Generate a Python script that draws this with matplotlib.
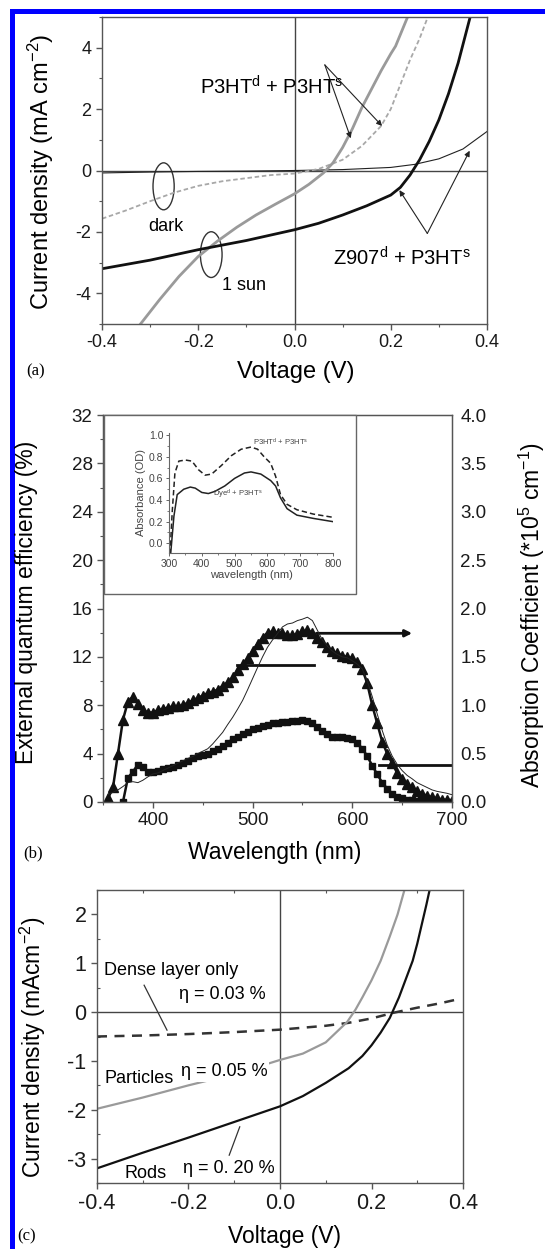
import matplotlib

matplotlib.use("Agg")
import matplotlib.pyplot as plt
from matplotlib.patches import Ellipse, Rectangle
from matplotlib.ticker import MultipleLocator

plt.rcParams["font.family"] = ["Liberation Sans", "DejaVu Sans"]
plt.rcParams["mathtext.fontset"] = "custom"
plt.rcParams["mathtext.rm"] = "Liberation Sans"
plt.rcParams["mathtext.it"] = "Liberation Sans:italic"
plt.rcParams["mathtext.default"] = "regular"
plt.rcParams["axes.unicode_minus"] = False

W, H = 545, 1249
GRAY = "#9a9a9a"
AXC = "#555555"

# ---------------- panel (a): J-V curves ----------------
a_v_p3ht_light = [-0.32, -0.28, -0.24, -0.2, -0.16, -0.12, -0.08, -0.04, 0.0, 0.03, 0.06,
                  0.08, 0.1, 0.12, 0.14, 0.16, 0.18, 0.2, 0.21, 0.235]
a_j_p3ht_light = [-5.0, -4.2, -3.45, -2.8, -2.3, -1.85, -1.45, -1.1, -0.76, -0.45, -0.08,
                  0.25, 0.75, 1.35, 2.05, 2.65, 3.25, 3.8, 4.05, 5.0]

a_v_p3ht_dark = [-0.4, -0.35, -0.3, -0.25, -0.2, -0.15, -0.1, -0.05, 0.0, 0.05, 0.1,
                 0.14, 0.18, 0.2, 0.22, 0.24, 0.26, 0.277]
a_j_p3ht_dark = [-1.57, -1.3, -1.0, -0.72, -0.5, -0.35, -0.25, -0.15, -0.1, 0.05, 0.35,
                 0.8, 1.45, 2.0, 2.8, 3.6, 4.3, 5.0]

a_v_z907_dark = [-0.4, -0.3, -0.2, -0.1, 0.0, 0.1, 0.2, 0.25, 0.3, 0.35, 0.4]
a_j_z907_dark = [-0.08, -0.05, -0.03, -0.02, 0.0, 0.03, 0.1, 0.2, 0.38, 0.7, 1.27]

a_v_z907_light = [-0.4, -0.3, -0.2, -0.1, 0.0, 0.05, 0.1, 0.15, 0.2, 0.22, 0.24, 0.26,
                  0.28, 0.3, 0.32, 0.34, 0.365]
a_j_z907_light = [-3.2, -2.92, -2.58, -2.28, -1.93, -1.72, -1.45, -1.15, -0.8, -0.55, -0.15,
                  0.35, 0.95, 1.65, 2.5, 3.5, 5.0]

# ---------------- panel (b): EQE and absorption ----------------
b_wl = list(range(355, 705, 5))
b_eqe_tri = [0.3, 1.2, 4.0, 6.8, 8.3, 8.7, 8.1, 7.6, 7.4, 7.4, 7.6, 7.7, 7.8, 7.9, 7.9,
             8.0, 8.2, 8.4, 8.6, 8.8, 9.0, 9.1, 9.3, 9.6, 9.9, 10.3, 10.9, 11.4, 11.9,
             12.5, 13.1, 13.6, 14.0, 14.1, 14.0, 14.0, 13.8, 13.8, 13.9, 14.1, 14.2, 14.0,
             13.6, 13.2, 12.8, 12.5, 12.3, 12.1, 12.0, 11.9, 11.6, 11.0, 9.8, 8.0, 6.5,
             5.0, 4.0, 3.2, 2.4, 1.9, 1.5, 1.2, 0.9, 0.7, 0.5, 0.4, 0.3, 0.2, 0.15, 0.1]
b_wl_sq = list(range(370, 705, 5))
b_eqe_sq = [0.0, 2.0, 2.5, 3.1, 2.9, 2.5, 2.5, 2.6, 2.7, 2.8, 2.9, 3.1, 3.2, 3.4, 3.6,
            3.8, 3.9, 4.0, 4.2, 4.4, 4.6, 4.9, 5.2, 5.4, 5.6, 5.8, 6.0, 6.1, 6.3, 6.4,
            6.5, 6.5, 6.6, 6.6, 6.7, 6.7, 6.8, 6.7, 6.5, 6.2, 5.9, 5.6, 5.4, 5.4, 5.4,
            5.3, 5.2, 4.9, 4.4, 3.8, 3.0, 2.3, 1.6, 1.1, 0.7, 0.45, 0.3, 0.2, 0.15, 0.1,
            0.08, 0.06, 0.05, 0.05, 0.04, 0.04, 0.03]
b_abs_coef = [0.075, 0.10, 0.125, 0.16, 0.20, 0.21, 0.20, 0.225, 0.26, 0.29, 0.30, 0.325,
              0.35, 0.375, 0.40, 0.425, 0.45, 0.47, 0.50, 0.525, 0.55, 0.60, 0.66, 0.72,
              0.80, 0.875, 0.96, 1.05, 1.16, 1.275, 1.39, 1.50, 1.60, 1.675, 1.74, 1.81,
              1.84, 1.85, 1.875, 1.89, 1.91, 1.875, 1.775, 1.675, 1.61, 1.56, 1.525, 1.50,
              1.49, 1.46, 1.425, 1.375, 1.25, 1.09, 0.91, 0.74, 0.59, 0.475, 0.39, 0.325,
              0.275, 0.24, 0.20, 0.175, 0.15, 0.125, 0.11, 0.10, 0.09, 0.075]

# inset: absorbance spectra
ins_wl_p3ht = [303, 310, 318, 330, 350, 370, 390, 410, 430, 460, 490, 520, 550, 570, 590,
               610, 625, 640, 660, 690, 740, 800]
ins_od_p3ht = [-0.1, 0.3, 0.65, 0.76, 0.77, 0.76, 0.68, 0.63, 0.64, 0.72, 0.81, 0.87, 0.89,
               0.87, 0.8, 0.74, 0.62, 0.45, 0.36, 0.31, 0.27, 0.24]
ins_wl_dye = [305, 315, 325, 345, 365, 380, 400, 420, 440, 470, 500, 530, 550, 580, 610,
              625, 640, 660, 690, 740, 800]
ins_od_dye = [-0.1, 0.25, 0.45, 0.5, 0.52, 0.51, 0.47, 0.46, 0.48, 0.53, 0.6, 0.65, 0.66,
              0.64, 0.58, 0.53, 0.42, 0.32, 0.26, 0.23, 0.2]

# ---------------- panel (c): J-V for different TiO2 layers ----------------
c_v_rods = [-0.4, -0.3, -0.2, -0.1, 0.0, 0.05, 0.1, 0.15, 0.18, 0.2, 0.22, 0.24, 0.26,
            0.28, 0.29, 0.3, 0.31, 0.32, 0.327]
c_j_rods = [-3.2, -2.88, -2.57, -2.25, -1.93, -1.72, -1.45, -1.15, -0.9, -0.68, -0.42,
            -0.12, 0.3, 0.8, 1.05, 1.4, 1.8, 2.2, 2.5]
c_v_particles = [-0.4, -0.3, -0.2, -0.1, -0.024, 0.0, 0.05, 0.1, 0.147, 0.165, 0.18, 0.2,
                 0.22, 0.24, 0.257, 0.272]
c_j_particles = [-1.98, -1.75, -1.5, -1.27, -1.05, -0.98, -0.85, -0.62, -0.2, 0.05, 0.3,
                 0.65, 1.05, 1.55, 2.0, 2.5]
c_v_dense = [-0.4, -0.3, -0.2, -0.1, 0.0, 0.1, 0.15, 0.2, 0.25, 0.3, 0.35, 0.383]
c_j_dense = [-0.5, -0.48, -0.45, -0.41, -0.36, -0.28, -0.22, -0.13, -0.01, 0.09, 0.18, 0.25]


def rect(left, top, right, bottom):
    return [left / W, 1 - bottom / H, (right - left) / W, (bottom - top) / H]


def ftext(fig, x, y, s, **kw):
    fig.text(x / W, 1 - y / H, s, ha=kw.pop("ha", "center"), va=kw.pop("va", "center"), **kw)


def style(ax, fs):
    for s in ax.spines.values():
        s.set_color(AXC)
        s.set_linewidth(1.0)
    ax.tick_params(which="both", direction="out", color=AXC, labelsize=fs,
                   top=False, right=False, labelcolor="#1a1a1a")
    ax.tick_params(which="major", length=4, width=1)
    ax.tick_params(which="minor", length=2.5, width=0.8)


fig = plt.figure(figsize=(W / 100, H / 100), dpi=100)

# ---- (a)
ax = fig.add_axes(rect(102, 17, 487, 324))
ax.plot(a_v_z907_dark, a_j_z907_dark, color="#222222", lw=0.8)
ax.plot(a_v_p3ht_dark, a_j_p3ht_dark, color="#a8a8a8", lw=1.3, ls=(0, (2.5, 1.5)))
ax.plot(a_v_p3ht_light, a_j_p3ht_light, color=GRAY, lw=2.0)
ax.plot(a_v_z907_light, a_j_z907_light, color="#111111", lw=2.0)
ax.axhline(0, color="#444444", lw=1.0, zorder=1)
ax.axvline(0, color="#444444", lw=1.0, zorder=1)
ax.set_xlim(-0.4, 0.4)
ax.set_ylim(-5, 5)
ax.xaxis.set_major_locator(MultipleLocator(0.2))
ax.xaxis.set_minor_locator(MultipleLocator(0.1))
ax.yaxis.set_major_locator(MultipleLocator(2))
ax.yaxis.set_minor_locator(MultipleLocator(1))
ax.xaxis.set_major_formatter(lambda v, p: f"{v:.1f}")
ax.yaxis.set_major_formatter(lambda v, p: f"{v:.0f}")
style(ax, 13)
ax.add_patch(Ellipse((-0.272, -0.515), 0.044, 1.53, fill=False, color="#333333", lw=1))
ax.add_patch(Ellipse((-0.173, -2.74), 0.045, 1.49, fill=False, color="#333333", lw=1))
ax.text(-0.268, -1.83, "dark", fontsize=13, ha="center", va="center")
ax.text(-0.15, -3.76, "1 sun", fontsize=13, ha="left", va="center")
ax.text(-0.197, 2.71, "P3HT$^d$ + P3HT$^s$", fontsize=14.5, ha="left", va="center")
ax.text(0.081, -2.86, "Z907$^d$ + P3HT$^s$", fontsize=14.5, ha="left", va="center")
arr = dict(arrowstyle="-|>", mutation_scale=8, lw=0.8, color="#222222", shrinkA=0, shrinkB=0)
for tx, ty in [(0.117, 1.05), (0.182, 1.45)]:
    ax.annotate("", xy=(tx, ty), xytext=(0.063, 3.44), arrowprops=arr)
for tx, ty in [(0.218, -0.64), (0.364, 0.645)]:
    ax.annotate("", xy=(tx, ty), xytext=(0.276, -2.05), arrowprops=arr)
ftext(fig, 41, 172, "Current density (mA cm$^{-2}$)", fontsize=17, rotation=90)
ftext(fig, 296, 372, "Voltage (V)", fontsize=17)
ftext(fig, 36, 371, "(a)", fontsize=12, family="Liberation Serif")

# ---- (b)
bx = fig.add_axes(rect(103, 415, 452, 802))
bx.plot(b_wl, b_eqe_tri, color="#111111", lw=1.8, marker="^", ms=6.5)
bx.plot(b_wl_sq, b_eqe_sq, color="#111111", lw=1.8, marker="s", ms=5)
bx.plot([484, 562], [11.35, 11.35], color="#111111", lw=2)
bx.plot([627, 700], [3.05, 3.05], color="#111111", lw=2)
bx.annotate("", xy=(660, 13.95), xytext=(564, 13.95),
            arrowprops=dict(arrowstyle="-|>", mutation_scale=10, lw=2, color="#111111",
                            shrinkA=0, shrinkB=0))
bx.set_xlim(350, 700)
bx.set_ylim(0, 32)
bx.xaxis.set_major_locator(MultipleLocator(100))
bx.xaxis.set_minor_locator(MultipleLocator(50))
bx.yaxis.set_major_locator(MultipleLocator(4))
bx.yaxis.set_minor_locator(MultipleLocator(2))
style(bx, 13.5)
bx2 = bx.twinx()
bx2.plot(b_wl, b_abs_coef, color="#222222", lw=0.7)
bx2.set_ylim(0, 4)
bx2.yaxis.set_major_locator(MultipleLocator(0.5))
bx2.yaxis.set_major_formatter(lambda v, p: f"{v:.1f}")
for s in bx2.spines.values():
    s.set_color(AXC)
bx2.tick_params(axis="y", length=0, labelsize=13.5, labelcolor="#1a1a1a", pad=6)
ftext(fig, 27, 602, "External quantum efficiency (%)", fontsize=16.5, rotation=90)
ftext(fig, 532, 615, "Absorption Coefficient (*10$^5$ cm$^{-1}$)", fontsize=16.5, rotation=90)
ftext(fig, 275, 852, "Wavelength (nm)", fontsize=16.5)
ftext(fig, 33, 853, "(b)", fontsize=12, family="Liberation Serif")

# inset frame and inset axes
frame = Rectangle((104 / W, 1 - 594 / H), (356 - 104) / W, (594 - 415) / H,
                  transform=fig.transFigure, facecolor="white", edgecolor="#666666", lw=1)
fig.patches.append(frame)
ix = fig.add_axes(rect(169, 433, 333, 553))
ix.set_zorder(5)
ix.patch.set_alpha(0)
ix.plot(ins_wl_p3ht, ins_od_p3ht, color="#222222", lw=1.1, ls=(0, (3.5, 2)))
ix.plot(ins_wl_dye, ins_od_dye, color="#222222", lw=1.1)
ix.set_xlim(300, 800)
ix.set_ylim(-0.09, 1.02)
ix.xaxis.set_major_locator(MultipleLocator(100))
ix.xaxis.set_minor_locator(MultipleLocator(50))
ix.yaxis.set_major_locator(MultipleLocator(0.2))
ix.yaxis.set_minor_locator(MultipleLocator(0.1))
ix.yaxis.set_major_formatter(lambda v, p: f"{v:.1f}")
ix.spines["top"].set_visible(False)
ix.spines["right"].set_visible(False)
for s in ("left", "bottom"):
    ix.spines[s].set_color("#666666")
    ix.spines[s].set_linewidth(0.8)
ix.tick_params(which="both", direction="out", color="#666666", labelsize=7.5,
               labelcolor="#444444", pad=1.5)
ix.tick_params(which="major", length=2.5, width=0.7)
ix.tick_params(which="minor", length=1.5, width=0.6)
ix.set_xlabel("wavelength (nm)", fontsize=8, color="#444444", labelpad=1)
ix.set_ylabel("Absorbance (OD)", fontsize=8, color="#444444", labelpad=2)
ix.text(556, 0.93, "P3HT$^d$ + P3HT$^s$", fontsize=5.5, color="#444444", va="center")
ix.text(434, 0.45, "Dye$^d$ + P3HT$^s$", fontsize=5.5, color="#444444", va="center")

# ---- (c)
cx = fig.add_axes(rect(97, 890, 463, 1183))
cx.plot(c_v_dense, c_j_dense, color="#333333", lw=1.8, ls=(0, (4, 3)))
cx.plot(c_v_particles, c_j_particles, color=GRAY, lw=1.6)
cx.plot(c_v_rods, c_j_rods, color="#111111", lw=1.6)
cx.axhline(0, color="#444444", lw=1.0, zorder=1)
cx.axvline(0, color="#444444", lw=1.0, zorder=1)
cx.set_xlim(-0.4, 0.4)
cx.set_ylim(-3.5, 2.5)
cx.xaxis.set_major_locator(MultipleLocator(0.2))
cx.xaxis.set_minor_locator(MultipleLocator(0.1))
cx.yaxis.set_major_locator(MultipleLocator(1))
cx.yaxis.set_minor_locator(MultipleLocator(0.5))
cx.xaxis.set_major_formatter(lambda v, p: f"{v:.1f}")
cx.yaxis.set_major_formatter(lambda v, p: f"{v:.0f}")
style(cx, 15.5)
cx.tick_params(which="minor", top=True, direction="in")
cx.text(-0.384, 0.86, "Dense layer only", fontsize=13, va="center")
cx.text(-0.221, 0.35, "η = 0.03 %", fontsize=13, va="center")
cx.text(-0.384, -1.36, "Particles", fontsize=13, va="center")
cx.text(-0.217, -1.22, "η = 0.05 %", fontsize=13, va="center", zorder=4,
        bbox=dict(facecolor="white", edgecolor="none", pad=1))
cx.text(-0.339, -3.30, "Rods", fontsize=13, va="center")
cx.text(-0.213, -3.20, "η = 0. 20 %", fontsize=13, va="center")
cx.plot([-0.297, -0.247], [0.55, -0.37], color="#333333", lw=0.9)
cx.plot([-0.111, -0.088], [-2.93, -2.35], color="#333333", lw=0.9)
ftext(fig, 33, 1047, "Current density (mAcm$^{-2}$)", fontsize=16.5, rotation=90)
ftext(fig, 285, 1237, "Voltage (V)", fontsize=16.5)
ftext(fig, 27, 1236, "(c)", fontsize=12, family="Liberation Serif")

# blue page border
fig.patches.append(Rectangle((10 / W, 0), 4.5 / W, 1 - 9 / H, transform=fig.transFigure,
                             facecolor="#0000ff", edgecolor="none"))
fig.patches.append(Rectangle((10 / W, 1 - 14 / H), 1 - 10 / W, 5 / H, transform=fig.transFigure,
                             facecolor="#0000ff", edgecolor="none"))

fig.savefig("out.png", dpi=100)
